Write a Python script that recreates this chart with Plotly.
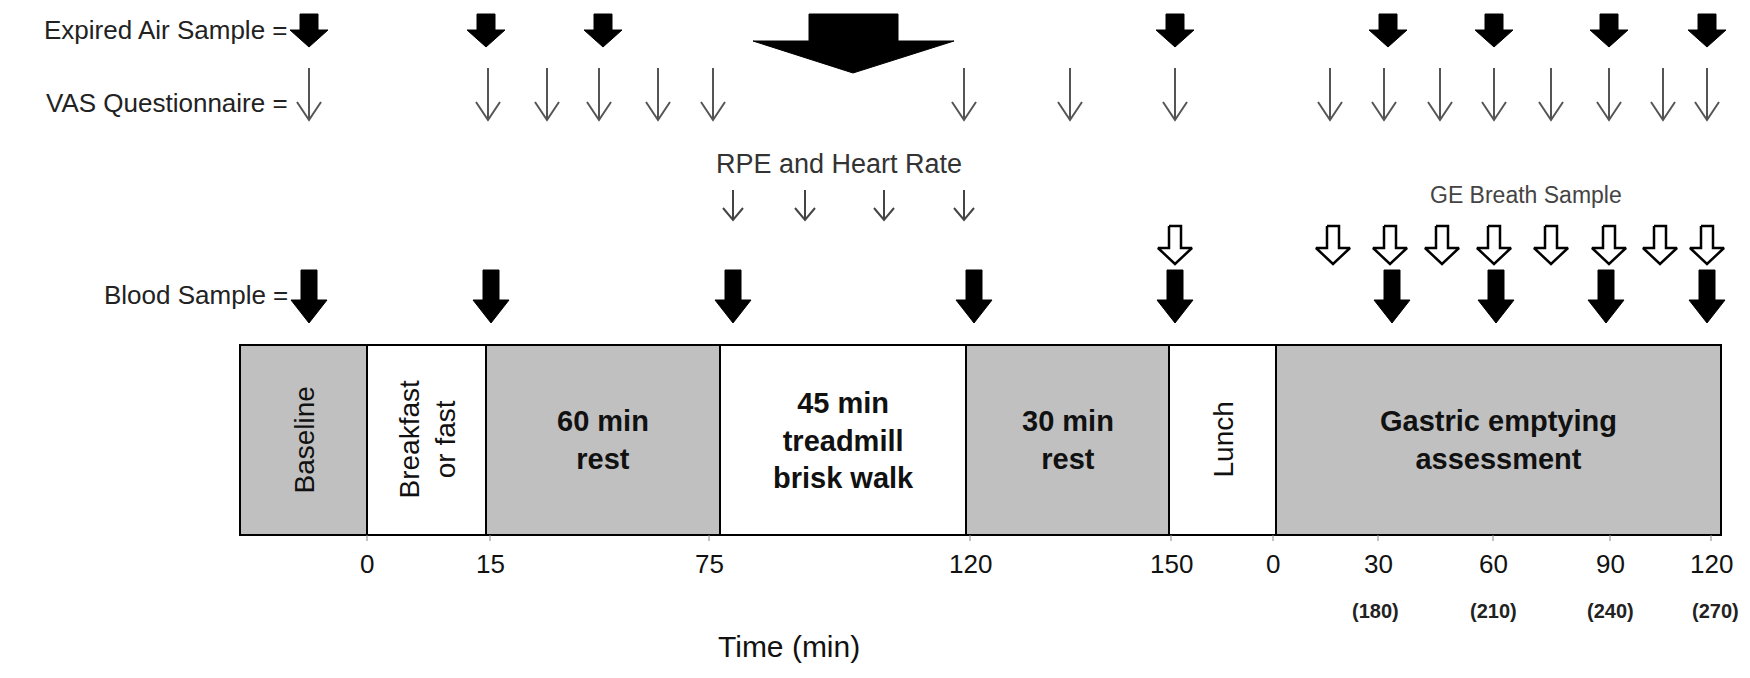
import plotly.graph_objects as go

# timeline blocks (edges in diagram units) and labels
block_edges = [232, 359, 478, 712, 958, 1161, 1268, 1713]
block_labels = ["Baseline", "Breakfast<br>or fast", "<b>60 min<br>rest</b>",
                "<b>45 min<br>treadmill<br>brisk walk</b>", "<b>30 min<br>rest</b>",
                "Lunch", "<b>Gastric emptying<br>assessment</b>"]
block_fill = ["#c0c0c0", "white", "#c0c0c0", "white", "#c0c0c0", "white", "#c0c0c0"]
block_rotated = [True, True, False, False, False, True, False]

# tick labels along the timeline
tick_pos = [359, 482, 701, 962, 1163, 1265, 1370, 1485, 1602, 1703]
tick_text = ["0", "15", "75", "120", "150", "0", "30", "60", "90", "120"]
sub_pos = [1367, 1485, 1602, 1707]
sub_text = ["(180)", "(210)", "(240)", "(270)"]

# sampling timepoints
expired_air = [301, 478, 595, 1167, 1380, 1486, 1601, 1699]
vas = [301, 480, 539, 591, 650, 705, 956, 1062, 1167, 1322, 1376, 1432, 1486, 1543, 1601, 1655, 1699]
rpe_hr = [725, 797, 876, 956]
ge_breath = [1167, 1325, 1382, 1434, 1486, 1543, 1601, 1652, 1699]
blood = [301, 483, 725, 966, 1167, 1384, 1488, 1598, 1699]

FONT = "Liberation Sans, Arial, sans-serif"
fig = go.Figure()


def block_arrows(xs, top, neck, tip, sw, hw):
    px, py = [], []
    for x in xs:
        px += [x - sw, x + sw, x + sw, x + hw, x, x - hw, x - sw, x - sw, None]
        py += [top, top, neck, neck, tip, neck, neck, top, None]
    return px, py


def line_arrows(xs, top, tip, hw, hh):
    px, py = [], []
    for x in xs:
        px += [x, x, None, x - hw, x, x + hw, None]
        py += [top, tip, None, tip - hh, tip, tip - hh, None]
    return px, py


# timeline boxes
for i, lab in enumerate(block_labels):
    x0, x1 = block_edges[i], block_edges[i + 1]
    fig.add_shape(type="rect", x0=x0, x1=x1, y0=337, y1=527,
                  fillcolor=block_fill[i], line=dict(color="black", width=2), layer="below")
    fig.add_annotation(x=(x0 + x1) / 2, y=432, text=lab, showarrow=False,
                       textangle=-90 if block_rotated[i] else 0,
                       font=dict(family=FONT, size=28 if block_rotated[i] else 29, color="#111"))

# small ticks on timeline base
for t in tick_pos:
    fig.add_shape(type="line", x0=t, x1=t, y0=527, y1=533, line=dict(color="#888", width=1))

for t, s in zip(tick_pos, tick_text):
    fig.add_annotation(x=t, y=556, text=s, showarrow=False, font=dict(family=FONT, size=26, color="#111"))
for t, s in zip(sub_pos, sub_text):
    fig.add_annotation(x=t, y=603, text="<b>" + s + "</b>", showarrow=False,
                       font=dict(family=FONT, size=20, color="#222"))
fig.add_annotation(x=781, y=638, text="Time (min)", showarrow=False, font=dict(family=FONT, size=30, color="#111"))

# expired air arrows
px, py = block_arrows(expired_air, 6, 22, 39, 9, 19)
fig.add_trace(go.Scatter(x=px, y=py, mode="lines", fill="toself", fillcolor="black",
                         line=dict(color="black", width=1)))
# big arrow
bx = [801, 890, 890, 946, 845, 745, 801, 801]
by = [6, 6, 33, 33, 65, 33, 33, 6]
fig.add_trace(go.Scatter(x=bx, y=by, mode="lines", fill="toself", fillcolor="black",
                         line=dict(color="black", width=1)))
# VAS arrows
px, py = line_arrows(vas, 60, 112, 12, 18)
fig.add_trace(go.Scatter(x=px, y=py, mode="lines", line=dict(color="#555", width=2)))
# RPE arrows
px, py = line_arrows(rpe_hr, 182, 212, 10, 12)
fig.add_trace(go.Scatter(x=px, y=py, mode="lines", line=dict(color="#444", width=2)))
# GE breath hollow arrows
px, py = block_arrows(ge_breath, 218, 240, 256, 6, 17)
fig.add_trace(go.Scatter(x=px, y=py, mode="lines", fill="toself", fillcolor="white",
                         line=dict(color="black", width=2.5)))
# blood arrows
px, py = block_arrows(blood, 262, 292, 315, 8, 18)
fig.add_trace(go.Scatter(x=px, y=py, mode="lines", fill="toself", fillcolor="black",
                         line=dict(color="black", width=1)))

# row labels
for txt, y in [("Expired Air Sample =", 22), ("VAS Questionnaire =", 95), ("Blood Sample =", 287)]:
    fig.add_annotation(x=282, y=y, text=txt, showarrow=False, xanchor="right",
                       font=dict(family=FONT, size=26, color="#222"))
fig.add_annotation(x=831, y=156, text="RPE and Heart Rate", showarrow=False,
                   font=dict(family=FONT, size=27, color="#333"))
fig.add_annotation(x=1518, y=187, text="GE Breath Sample", showarrow=False,
                   font=dict(family=FONT, size=23, color="#444"))

fig.update_xaxes(range=[0, 1750], visible=False)
fig.update_yaxes(range=[678, 0], visible=False)
fig.update_layout(width=1750, height=678, margin=dict(l=0, r=0, t=0, b=0),
                  plot_bgcolor="white", paper_bgcolor="white", showlegend=False)
fig.write_html("out.html")
